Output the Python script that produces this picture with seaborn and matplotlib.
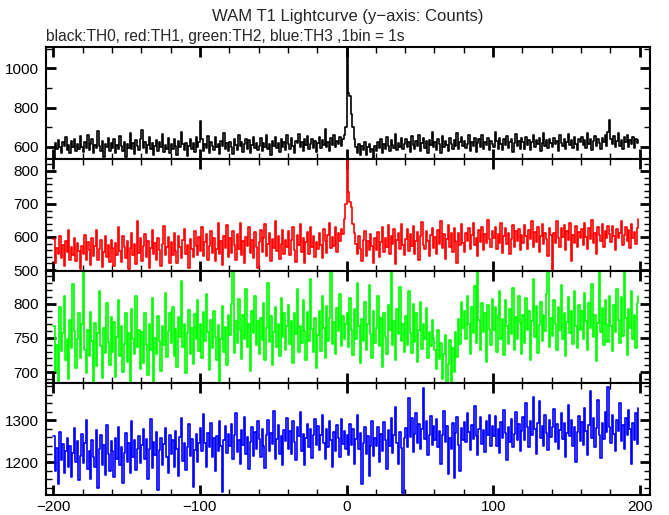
# WAM T1 Lightcurve - 4 energy bands, 1 s bins
import numpy as np
import pandas as pd
import seaborn as sns
import matplotlib.pyplot as plt
from matplotlib.ticker import MultipleLocator

# time bins (s), 1bin = 1s, from -200 to 199
time_start = -200
n_bins = 400

# TH0 (black) counts
th0 = [
    545, 617, 590, 633, 598, 571, 626, 602, 648, 585, 610, 566, 628, 597, 640, 579, 612, 588, 653, 601,
    574, 622, 596, 660, 583, 614, 639, 568, 607, 592, 683, 605, 577, 629, 550, 616, 598, 645, 581, 620,
    592, 638, 569, 611, 587, 657, 603, 579, 625, 548, 614, 596, 671, 587, 619, 562, 633, 605, 584, 640,
    684, 593, 626, 571, 609, 650, 588, 618, 557, 603, 637, 580, 622, 599, 663, 576, 610, 591, 645, 568,
    615, 587, 642, 603, 560, 629, 598, 676, 612, 584, 621, 555, 606, 639, 591, 617, 573, 652, 600, 626,
    733, 641, 579, 613, 596, 654, 570, 622, 606, 585, 648, 598, 615, 562, 631, 604, 668, 590, 619, 577,
    627, 598, 561, 640, 611, 585, 659, 603, 624, 572, 615, 642, 590, 633, 567, 608, 651, 595, 620, 583,
    606, 644, 578, 617, 598, 662, 589, 613, 556, 631, 605, 650, 592, 618, 574, 640, 601, 627, 583, 659,
    612, 589, 646, 604, 571, 630, 618, 664, 597, 624, 580, 639, 609, 655, 588, 615, 642, 596, 628, 572,
    620, 648, 593, 635, 607, 690, 599, 626, 581, 644, 611, 660, 597, 632, 615, 651, 604, 639, 662, 700,
    1108, 875, 860, 765, 700, 640, 598, 571, 615, 560, 604, 583, 626, 556, 598, 612, 575, 590, 545, 603,
    579, 627, 594, 640, 566, 612, 588, 651, 603, 577, 634, 609, 595, 667, 582, 621, 600, 645, 588, 615,
    640, 597, 623, 575, 656, 611, 588, 632, 603, 662, 579, 618, 645, 594, 628, 569, 637, 610, 676, 599,
    625, 583, 641, 612, 570, 654, 597, 628, 609, 580, 647, 615, 590, 636, 604, 671, 588, 622, 651, 606,
    631, 596, 614, 658, 581, 627, 603, 645, 572, 619, 638, 600, 662, 589, 624, 608, 647, 585, 630, 612,
    601, 677, 628, 590, 646, 615, 583, 639, 607, 656, 594, 622, 640, 576, 618, 665, 603, 631, 587, 644,
    623, 590, 652, 611, 637, 584, 626, 660, 598, 633, 612, 647, 580, 621, 668, 605, 636, 593, 640, 617,
    598, 645, 612, 631, 579, 658, 620, 603, 641, 588, 627, 663, 609, 635, 594, 650, 616, 582, 639, 624,
    651, 607, 633, 596, 669, 615, 640, 585, 628, 657, 603, 638, 617, 590, 646, 625, 661, 604, 675, 735,
    642, 612, 655, 598, 630, 671, 606, 637, 589, 648, 622, 660, 600, 634, 613, 652, 595, 641, 619, 637,
]

# TH1 (red) counts
th1 = [
    593, 521, 566, 548, 604, 537, 575, 512, 589, 553, 620, 531, 569, 545, 598, 526, 582, 557, 503, 574,
    548, 607, 530, 586, 561, 515, 597, 542, 574, 620, 529, 563, 590, 509, 556, 603, 538, 577, 524, 592,
    566, 511, 583, 546, 631, 558, 524, 602, 571, 537, 589, 502, 568, 612, 545, 580, 519, 648, 551, 596,
    527, 574, 609, 540, 588, 505, 566, 620, 548, 583, 530, 597, 561, 513, 578, 634, 545, 569, 600, 522,
    586, 545, 612, 559, 521, 603, 570, 536, 591, 625, 549, 577, 507, 594, 563, 538, 618, 572, 544, 601,
    557, 629, 541, 584, 608, 530, 572, 619, 550, 596, 528, 563, 641, 547, 589, 516, 603, 568, 635, 540,
    598, 552, 617, 576, 531, 609, 563, 643, 545, 588, 520, 601, 574, 629, 552, 590, 537, 615, 569, 506,
    584, 622, 553, 597, 638, 542, 579, 611, 526, 594, 566, 648, 558, 603, 533, 580, 621, 549, 592, 571,
    619, 545, 590, 631, 560, 523, 605, 576, 640, 553, 597, 521, 584, 615, 548, 630, 570, 602, 539, 586,
    564, 612, 577, 535, 625, 589, 551, 607, 642, 568, 599, 573, 630, 556, 613, 588, 625, 609, 655, 700,
    905, 735, 705, 690, 640, 612, 580, 548, 603, 565, 527, 592, 618, 541, 587, 560, 609, 574, 520, 597,
    562, 615, 539, 584, 629, 555, 598, 571, 636, 548, 603, 580, 625, 519, 591, 612, 563, 640, 577, 546,
    593, 625, 558, 610, 572, 634, 549, 588, 616, 531, 602, 645, 575, 563, 619, 587, 541, 605, 627, 568,
    601, 548, 622, 580, 647, 566, 608, 533, 594, 637, 571, 612, 555, 627, 589, 520, 611, 576, 640, 583,
    553, 612, 589, 628, 564, 605, 643, 575, 598, 543, 620, 586, 630, 561, 609, 582, 650, 594, 570, 618,
    597, 631, 565, 610, 583, 641, 552, 603, 626, 578, 612, 547, 594, 636, 570, 618, 589, 624, 560, 607,
    582, 637, 604, 563, 621, 593, 648, 571, 614, 586, 630, 556, 603, 640, 578, 612, 595, 543, 627, 605,
    500, 612, 583, 647, 598, 569, 626, 601, 637, 560, 619, 590, 643, 528, 606, 581, 632, 570, 614, 596,
    623, 577, 641, 600, 565, 628, 593, 650, 583, 612, 547, 631, 605, 589, 640, 571, 618, 596, 633, 608,
    585, 634, 602, 561, 625, 597, 612, 648, 575, 606, 631, 589, 620, 567, 640, 598, 615, 580, 627, 655,
]

# TH2 (green) counts
th2 = [
    768, 702, 740, 683, 795, 731, 757, 812, 718, 749, 690, 776, 735, 829, 760, 706, 748, 786, 721, 770,
    852, 733, 699, 761, 724, 788, 746, 680, 772, 709, 757, 818, 738, 692, 765, 728, 801, 744, 711, 780,
    730, 774, 693, 752, 805, 723, 768, 700, 741, 786, 715, 757, 679, 793, 748, 727, 812, 736, 762, 705,
    759, 714, 787, 740, 695, 771, 733, 809, 676, 750, 726, 782, 745, 701, 768, 739, 816, 722, 760, 787,
    742, 796, 724, 763, 708, 780, 751, 833, 736, 771, 698, 757, 791, 727, 764, 712, 785, 749, 806, 731,
    770, 721, 788, 745, 814, 758, 703, 776, 735, 790, 752, 717, 769, 674, 748, 797, 730, 766, 711, 783,
    754, 800, 855, 728, 775, 743, 807, 761, 719, 784, 748, 822, 736, 770, 702, 789, 757, 812, 739, 775,
    726, 779, 747, 801, 718, 765, 830, 744, 782, 710, 758, 795, 736, 771, 724, 808, 751, 787, 733, 768,
    798, 741, 775, 713, 786, 756, 821, 729, 767, 742, 805, 760, 718, 788, 745, 836, 763, 730, 779, 706,
    755, 789, 731, 812, 764, 720, 797, 746, 779, 858, 741, 773, 726, 794, 760, 815, 738, 782, 749, 770,
    786, 737, 808, 762, 725, 792, 749, 831, 767, 714, 778, 745, 803, 733, 771, 827, 756, 720, 790, 743,
    764, 811, 738, 779, 708, 786, 752, 727, 798, 761, 852, 740, 775, 718, 793, 756, 824, 745, 770, 729,
    782, 740, 819, 757, 728, 799, 744, 786, 715, 762, 803, 734, 770, 748, 794, 721, 759, 738, 776, 750,
    733, 704, 761, 719, 742, 690, 727, 754, 676, 712, 747, 668, 735, 700, 758, 722, 778, 741, 803, 765,
    790, 748, 812, 771, 727, 795, 757, 826, 742, 858, 776, 733, 801, 759, 786, 715, 798, 763, 739, 807,
    761, 796, 730, 784, 818, 749, 777, 725, 806, 768, 741, 792, 756, 823, 733, 781, 748, 812, 772, 726,
    783, 742, 809, 761, 790, 718, 775, 836, 752, 797, 728, 769, 803, 745, 784, 760, 815, 865, 737, 779,
    753, 806, 771, 732, 795, 762, 827, 748, 786, 724, 774, 810, 757, 790, 741, 819, 768, 735, 798, 762,
    789, 748, 816, 775, 733, 801, 764, 829, 751, 783, 716, 772, 857, 758, 794, 739, 806, 770, 744, 812,
    767, 731, 798, 759, 822, 776, 742, 810, 753, 850, 779, 725, 793, 764, 818, 748, 784, 735, 801, 812,
]

# TH3 (blue) counts
th3 = [
    1262, 1180, 1235, 1148, 1271, 1206, 1243, 1174, 1228, 1257, 1190, 1239, 1165, 1222, 1281, 1201, 1250, 1158, 1216, 1268,
    1198, 1247, 1300, 1185, 1226, 1162, 1254, 1213, 1189, 1276, 1140, 1231, 1264, 1195, 1242, 1170, 1289, 1219, 1180, 1251,
    1228, 1166, 1258, 1207, 1284, 1193, 1237, 1151, 1223, 1269, 1201, 1245, 1176, 1297, 1214, 1252, 1183, 1232, 1263, 1198,
    1241, 1280, 1209, 1256, 1161, 1233, 1302, 1188, 1249, 1217, 1271, 1136, 1230, 1258, 1193, 1244, 1282, 1212, 1176, 1266,
    1219, 1252, 1189, 1274, 1233, 1168, 1261, 1306, 1204, 1247, 1182, 1237, 1290, 1215, 1256, 1143, 1229, 1268, 1200, 1245,
    1281, 1228, 1315, 1246, 1190, 1270, 1237, 1294, 1212, 1258, 1180, 1263, 1226, 1299, 1240, 1129, 1254, 1287, 1222, 1268,
    1238, 1291, 1209, 1265, 1316, 1224, 1253, 1196, 1277, 1242, 1308, 1219, 1260, 1185, 1249, 1283, 1216, 1271, 1232, 1297,
    1255, 1213, 1279, 1238, 1186, 1265, 1301, 1227, 1270, 1244, 1322, 1209, 1256, 1288, 1221, 1262, 1193, 1276, 1250, 1305,
    1233, 1274, 1219, 1298, 1249, 1205, 1284, 1262, 1319, 1227, 1268, 1195, 1257, 1291, 1236, 1278, 1210, 1265, 1303, 1242,
    1286, 1229, 1265, 1313, 1247, 1208, 1279, 1236, 1297, 1254, 1190, 1271, 1226, 1288, 1258, 1212, 1302, 1243, 1275, 1231,
    1264, 1218, 1290, 1241, 1279, 1196, 1256, 1312, 1232, 1270, 1148, 1247, 1284, 1221, 1263, 1169, 1238, 1297, 1215, 1259,
    1240, 1283, 1200, 1268, 1226, 1295, 1252, 1185, 1277, 1239, 1306, 1222, 1264, 1331, 1245, 1197, 1273, 1234, 1128, 1258,
    1281, 1236, 1352, 1260, 1305, 1224, 1268, 1316, 1247, 1290, 1232, 1279, 1375, 1255, 1298, 1218, 1266, 1310, 1241, 1287,
    1253, 1302, 1237, 1275, 1196, 1264, 1321, 1248, 1286, 1172, 1259, 1231, 1294, 1163, 1270, 1308, 1242, 1179, 1281, 1254,
    1296, 1248, 1317, 1271, 1229, 1289, 1255, 1334, 1262, 1218, 1280, 1307, 1243, 1276, 1225, 1298, 1265, 1313, 1240, 1286,
    1262, 1310, 1238, 1279, 1222, 1296, 1257, 1325, 1270, 1205, 1283, 1249, 1302, 1236, 1268, 1319, 1254, 1291, 1227, 1275,
    1308, 1252, 1340, 1283, 1236, 1297, 1264, 1356, 1279, 1221, 1293, 1345, 1258, 1287, 1238, 1312, 1270, 1229, 1301, 1261,
    1285, 1326, 1249, 1292, 1231, 1277, 1318, 1256, 1293, 1214, 1270, 1336, 1262, 1300, 1240, 1284, 1202, 1273, 1311, 1250,
    1296, 1242, 1330, 1275, 1218, 1288, 1368, 1259, 1305, 1237, 1281, 1348, 1266, 1210, 1294, 1255, 1320, 1271, 1378, 1283,
    1247, 1312, 1268, 1226, 1301, 1274, 1340, 1251, 1289, 1232, 1306, 1264, 1325, 1280, 1197, 1294, 1253, 1318, 1243, 1330,
]

bands = ["TH0", "TH1", "TH2", "TH3"]
colors = ["black", "#ff0000", "#00ff00", "#0000ff"]
ylims = [(538, 1108), (497, 836), (684, 848), (1123, 1388)]
major_steps = [200, 100, 50, 100]
minor_steps = [100, 20, 10, 20]

time = np.arange(time_start, time_start + n_bins)
df = pd.DataFrame({"time": time, "TH0": th0, "TH1": th1, "TH2": th2, "TH3": th3})

sns.set_theme(style="ticks")
plt.rcParams["font.family"] = ["Liberation Sans", "DejaVu Sans"]

fig = plt.figure(figsize=(6.69, 5.15), dpi=100)
left, width = 46 / 669, 604 / 669
top_px = [47, 159, 271, 383]
h_px = 112

for i, band in enumerate(bands):
    ax = fig.add_axes([left, 1 - (top_px[i] + h_px) / 515, width, h_px / 515])
    sns.lineplot(data=df, x="time", y=band, color=colors[i], lw=1.2,
                 drawstyle="steps-post", ax=ax)
    ax.set_xlim(-205, 207)
    ax.set_ylim(*ylims[i])
    ax.set_xlabel("")
    ax.set_ylabel("")
    ax.xaxis.set_major_locator(MultipleLocator(100))
    ax.xaxis.set_minor_locator(MultipleLocator(20))
    ax.yaxis.set_major_locator(MultipleLocator(major_steps[i]))
    ax.yaxis.set_minor_locator(MultipleLocator(minor_steps[i]))
    ax.tick_params(which="both", direction="in", top=True, right=True,
                   labelsize=11, colors="black")
    ax.tick_params(which="major", length=7, width=2)
    ax.tick_params(which="minor", length=4, width=1)
    ax.tick_params(axis="y", pad=5)
    for sp in ax.spines.values():
        sp.set_linewidth(1.5)
        sp.set_color("black")
    if i < 3:
        ax.tick_params(labelbottom=False)
    ax.set_facecolor("white")

fig.text(348 / 669, 1 - 17 / 515, "WAM T1 Lightcurve (y\u2212axis: Counts)",
         ha="center", va="center", fontsize=12)
fig.text(46 / 669, 1 - 36 / 515, "black:TH0, red:TH1, green:TH2, blue:TH3 ,1bin = 1s",
         ha="left", va="center", fontsize=11.2)

fig.savefig("out.png", dpi=100, facecolor="white")
